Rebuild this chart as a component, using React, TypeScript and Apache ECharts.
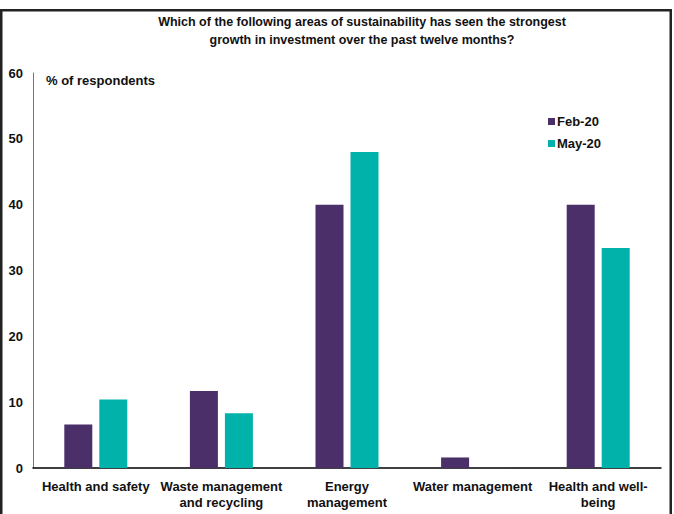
import React, { useEffect, useRef } from "react";
import * as echarts from "echarts";

const categories = [
  "Health and safety",
  "Waste management\nand recycling",
  "Energy\nmanagement",
  "Water management",
  "Health and well-\nbeing",
];
const feb20 = [6.6, 11.7, 40, 1.6, 40];
const may20 = [10.4, 8.3, 48, 0, 33.4];
const seriesNames = ["Feb-20", "May-20"];
const yTicks = { min: 0, max: 60, interval: 10 };
const titleText =
  "Which of the following areas of sustainability has seen the strongest\ngrowth in investment over the past twelve months?";
const axisTitle = "% of respondents";

const FONT = "'Liberation Sans Narrow', 'Arial Narrow', 'Liberation Sans', Arial, sans-serif";
const PURPLE = "#4b2f69";
const TEAL = "#00b2a9";

export default function App() {
  const ref = useRef<HTMLDivElement>(null);
  useEffect(() => {
    if (!ref.current) return;
    const chart = echarts.init(ref.current, undefined, { renderer: "svg" });
    chart.setOption({
      animation: false,
      backgroundColor: "#ffffff",
      textStyle: { fontFamily: FONT },
      title: {
        text: titleText,
        left: 357,
        textAlign: "center",
        top: 8,
        textStyle: {
          fontFamily: FONT,
          fontSize: 12.5,
          fontWeight: "bold",
          color: "#111",
          lineHeight: 18,
        },
      },
      legend: {
        orient: "vertical",
        left: 543,
        top: 110,
        itemWidth: 7,
        itemHeight: 7,
        itemGap: 9,
        icon: "rect",
        data: seriesNames,
        textStyle: {
          fontFamily: FONT,
          fontSize: 13,
          fontWeight: "bold",
          color: "#111",
          padding: [0, 0, 0, -3],
        },
      },
      grid: { left: 33, right: 13, top: 73, bottom: 46, containLabel: false },
      xAxis: {
        type: "category",
        data: categories,
        axisLine: { show: true, lineStyle: { color: "#000", width: 1.5 } },
        axisTick: { show: false },
        axisLabel: {
          interval: 0,
          fontFamily: FONT,
          fontSize: 13,
          fontWeight: "bold",
          color: "#111",
          lineHeight: 16,
          margin: 10,
        },
      },
      yAxis: {
        type: "value",
        min: yTicks.min,
        max: yTicks.max,
        interval: yTicks.interval,
        axisLine: { show: true, lineStyle: { color: "#777", width: 1 } },
        axisTick: { show: false },
        splitLine: { show: false },
        axisLabel: {
          fontFamily: FONT,
          fontSize: 13,
          fontWeight: "bold",
          color: "#111",
          margin: 10,
        },
      },
      series: [
        {
          name: seriesNames[0],
          type: "bar",
          data: feb20,
          barWidth: 28,
          barGap: "25%",
          itemStyle: { color: PURPLE },
        },
        {
          name: seriesNames[1],
          type: "bar",
          data: may20,
          barWidth: 28,
          barGap: "25%",
          itemStyle: { color: TEAL },
        },
      ],
      graphic: [
        {
          type: "text",
          left: 46,
          top: 74,
          style: {
            text: axisTitle,
            fontFamily: FONT,
            fontSize: 13,
            fontWeight: "bold",
            fill: "#111",
          },
        },
        {
          type: "rect",
          shape: { x: 1.25, y: 10.25, width: 669.5, height: 520 },
          style: { fill: "none", stroke: "#222", lineWidth: 2.5 },
          silent: true,
        },
      ],
    });
    return () => chart.dispose();
  }, []);
  return (
    <div
      ref={ref}
      style={{ position: "fixed", left: 0, top: 0, width: 674, height: 514 }}
    />
  );
}
